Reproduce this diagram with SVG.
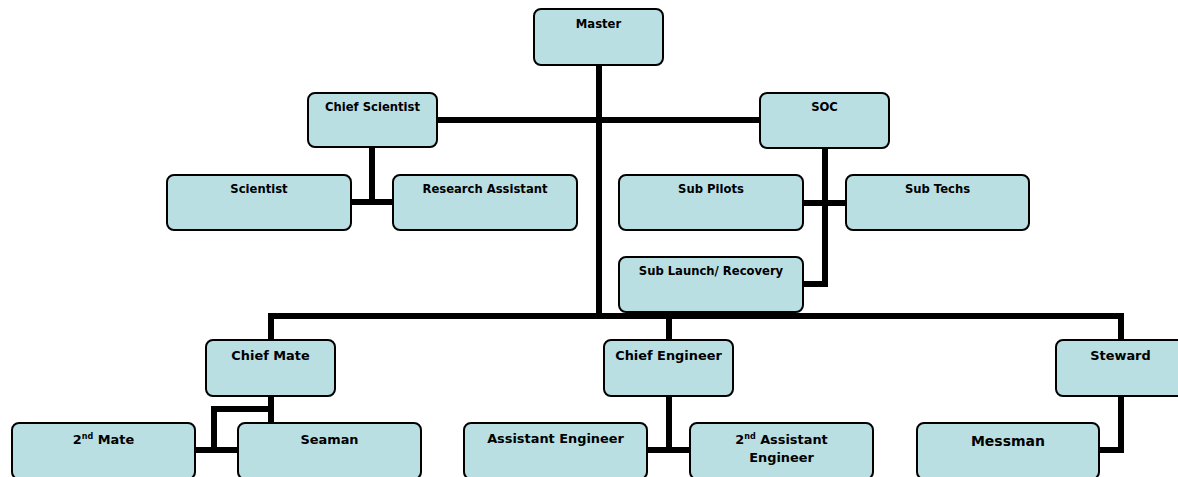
<svg xmlns="http://www.w3.org/2000/svg" width="1178" height="477" viewBox="0 0 1178 477">
<style>
.box{fill:#B9DFE3;stroke:#000;stroke-width:2}
.t{font-family:"DejaVu Sans",Verdana,sans-serif;font-weight:bold;fill:#000;text-anchor:middle}
.s1{font-size:11.6px}
.s2{font-size:12.9px}
.s3{font-size:14px}
.c{fill:none;stroke:#000;stroke-width:6;stroke-linejoin:miter;stroke-linecap:butt}
</style>
<rect width="1178" height="477" fill="#fff"/>
<g id="connectors">
<path class="c" d="M599,65 V319"/>
<path class="c" d="M437,120 H760"/>
<path class="c" d="M372,147 V202 M351,202 H393"/>
<path class="c" d="M825,148 V284 H803"/>
<path class="c" d="M803,203 H846"/>
<path class="c" d="M271,340 V316 H1121 V340"/>
<path class="c" d="M669,316 V340"/>
<path class="c" d="M271,396 V423 M271,409 H214 V450 M195,450 H238"/>
<path class="c" d="M669,396 V450 M647,450 H690"/>
<path class="c" d="M1121,396 V450 H1099"/>
</g>
<g id="master"><rect class="box" x="534" y="9" width="129" height="56" rx="7"/><text class="t s1" x="598.5" y="28">Master</text></g>
<g id="chief-scientist"><rect class="box" x="308" y="93" width="129" height="54" rx="7"/><text class="t s1" x="372.5" y="111">Chief Scientist</text></g>
<g id="soc"><rect class="box" x="760" y="93" width="129" height="55" rx="7"/><text class="t s1" x="824.5" y="111">SOC</text></g>
<g id="scientist"><rect class="box" x="167" y="175" width="184" height="55" rx="7"/><text class="t s1" x="259" y="193">Scientist</text></g>
<g id="research-assistant"><rect class="box" x="393" y="175" width="184" height="55" rx="7"/><text class="t s1" x="485" y="193">Research Assistant</text></g>
<g id="sub-pilots"><rect class="box" x="619" y="175" width="184" height="55" rx="7"/><text class="t s1" x="711" y="193">Sub Pilots</text></g>
<g id="sub-techs"><rect class="box" x="846" y="175" width="183" height="55" rx="7"/><text class="t s1" x="937.5" y="193">Sub Techs</text></g>
<g id="sub-launch"><rect class="box" x="619" y="257" width="184" height="55" rx="7"/><text class="t s1" x="711" y="275">Sub Launch/ Recovery</text></g>
<g id="chief-mate"><rect class="box" x="206" y="340" width="129" height="56" rx="7"/><text class="t s2" x="270.5" y="360">Chief Mate</text></g>
<g id="chief-engineer"><rect class="box" x="604" y="340" width="129" height="56" rx="7"/><text class="t s2" x="668.5" y="360">Chief Engineer</text></g>
<g id="steward"><rect class="box" x="1056" y="340" width="129" height="56" rx="7"/><text class="t s2" x="1120.5" y="360">Steward</text></g>
<g id="second-mate"><rect class="box" x="12" y="423" width="183" height="56" rx="7"/><text class="t s2" x="103.5" y="444">2<tspan font-size="8" dy="-5">nd</tspan><tspan dy="5"> Mate</tspan></text></g>
<g id="seaman"><rect class="box" x="238" y="423" width="183" height="56" rx="7"/><text class="t s2" x="329.5" y="444">Seaman</text></g>
<g id="assistant-engineer"><rect class="box" x="464" y="423" width="183" height="56" rx="7"/><text class="t s2" x="555.5" y="443">Assistant Engineer</text></g>
<g id="second-assistant-engineer"><rect class="box" x="690" y="423" width="183" height="56" rx="7"/><text class="t s2" x="781.5" y="444">2<tspan font-size="8" dy="-5">nd</tspan><tspan dy="5"> Assistant</tspan></text><text class="t s2" x="781.5" y="462">Engineer</text></g>
<g id="messman"><rect class="box" x="917" y="423" width="182" height="56" rx="7"/><text class="t s3" x="1008" y="446">Messman</text></g>
</svg>
